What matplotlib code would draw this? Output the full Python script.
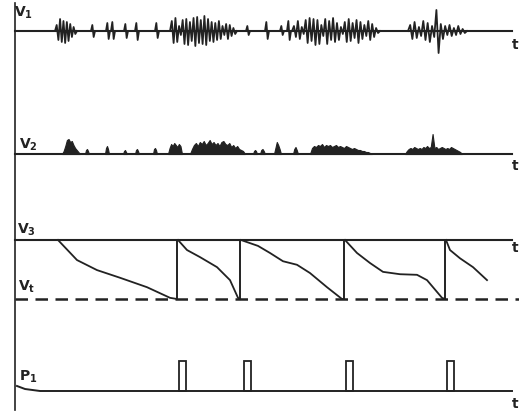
import numpy as np
import matplotlib.pyplot as plt

ink = '#222222'

# V1: raw activity, bursts given as (start, end) times and alternating peak amplitudes
v1_start = [55, 91, 106, 111, 124, 135, 155, 170, 246, 265, 280, 287, 292, 408]
v1_end = [77, 95, 110, 115, 128, 139, 159, 237, 250, 269, 284, 291, 380, 467]
v1_amp = [
    [6, -9, 12, -11, 10, -12, 9, -10, 7, -6, 4, -3],
    [6, -6],
    [8, -8],
    [9, -8],
    [7, -7],
    [8, -9],
    [8, -7],
    [10, -12, 13, -11, 5, -4, 11, -13, 12, -14, 9, -10, 13, -15, 14, -12, 11, -13,
     15, -14, 12, -10, 9, -11, 8, -9, 10, -8, 5, -4, 7, -8, 6, -5, 3, -3],
    [5, -4],
    [9, -8],
    [5, -4],
    [10, -9],
    [5, -6, 10, -8, 4, -3, 11, -12, 13, -10, 12, -14, 11, -13, 6, -5, 12, -13, 10, -9,
     13, -11, 8, -9, 4, -3, 9, -11, 12, -10, 8, -7, 11, -12, 9, -8, 6, -5, 10, -9, 7, -6, 3, -2],
    [6, -8, 9, -7, 4, -5, 10, -9, 8, -11, 5, -6, 21, -22, 7, -8, 5, -4, 6, -5, 3, -4, 5, -3, 2, -2],
]

# V2: integrated (rectified) activity
v2_start = [62, 85, 105, 123, 135, 153, 168, 190, 253, 260, 274, 293, 310, 405]
v2_end = [80, 89, 109, 127, 139, 157, 182, 245, 257, 265, 281, 298, 372, 462]
v2_amp = [
    [3, 8, 14, 15, 12, 13, 9, 6, 4, 2],
    [4, 5, 3],
    [6, 8, 5],
    [3, 4, 2],
    [4, 5, 3],
    [5, 6, 4],
    [6, 10, 8, 11, 9, 7, 10, 8],
    [5, 9, 11, 8, 12, 10, 13, 9, 11, 14, 10, 12, 9, 11, 8, 12, 13, 10, 9, 11, 7, 9, 6, 8, 5, 4, 3],
    [3, 4, 3],
    [4, 5, 3],
    [6, 12, 9, 5],
    [5, 7, 4],
    [6, 8, 7, 9, 8, 10, 7, 9, 8, 9, 7, 8, 9, 7, 8, 7, 6, 8, 7, 6, 5, 6, 5, 4, 4, 3, 3, 2, 2, 1],
    [3, 5, 6, 5, 7, 6, 5, 6, 5, 7, 6, 8, 6, 7, 20, 6, 7, 5, 6, 7, 6, 5, 6, 5, 7, 6, 5, 4, 3, 2],
]

# V3: decaying potential, 1 = V3 level, 0 = threshold Vt
ramp_t = [
    [58, 77, 97, 120, 147, 170, 177],
    [178, 187, 200, 217, 230, 238, 240],
    [241, 258, 270, 283, 297, 310, 327, 342, 344],
    [345, 357, 370, 383, 400, 417, 427, 442, 445],
    [446, 450, 460, 473, 487],
]
ramp_v = [
    [1, 0.66, 0.49, 0.36, 0.20, 0.02, 0],
    [1, 0.83, 0.71, 0.54, 0.32, 0.02, 0],
    [1, 0.90, 0.78, 0.64, 0.58, 0.44, 0.20, 0, 0],
    [1, 0.78, 0.61, 0.46, 0.42, 0.41, 0.32, 0.02, 0],
    [1, 0.83, 0.69, 0.54, 0.32],
]
reset_t = [177, 240, 344, 445]

# P1: output pulses
pulse_t = [179, 244, 346, 447]
pulse_w = 7

# layout (trace baselines, y grows downward)
x0, x1 = 15, 512
y_v1, y_v2, y_v3, y_vt, y_p1 = 31, 154, 240, 299, 391
p1_height = 30

fig = plt.figure(figsize=(5.19, 4.16), dpi=100)
ax = fig.add_axes([0, 0, 1, 1])
ax.set_xlim(0, 519)
ax.set_ylim(416, 0)
ax.axis('off')

# left axis
ax.plot([x0, x0], [3, 410], color=ink, lw=1.2)

# V1
ax.plot([x0, x1], [y_v1, y_v1], color=ink, lw=1.5)
for s, e, a in zip(v1_start, v1_end, v1_amp):
    t = np.linspace(s, e, len(a) + 2)
    v = np.array([0] + a + [0])
    ax.plot(t, y_v1 - v, color=ink, lw=1.3)

# V2
ax.plot([x0, x1], [y_v2, y_v2], color=ink, lw=1.5)
for s, e, a in zip(v2_start, v2_end, v2_amp):
    t = np.linspace(s, e, len(a) + 2)
    v = np.array([0] + a + [0])
    ax.fill_between(t, y_v2, y_v2 - v, color=ink, lw=0.8)

# V3 and threshold
ax.plot([x0, x1], [y_v3, y_v3], color=ink, lw=1.5)
ax.plot([x0, 519], [y_vt, y_vt], color=ink, lw=1.8, dashes=(5, 3))
span = y_vt - y_v3
for t, v in zip(ramp_t, ramp_v):
    ax.plot(t, y_vt - np.array(v) * span, color=ink, lw=1.3)
for t in reset_t:
    ax.plot([t, t], [y_vt, y_v3], color=ink, lw=1.4)

# P1
ax.plot([17, 25, 40, x1], [y_p1 - 5, y_p1 - 2, y_p1, y_p1], color=ink, lw=1.4)
for t in pulse_t:
    ax.add_patch(plt.Rectangle((t, y_p1 - p1_height), pulse_w, p1_height,
                               facecolor='white', edgecolor=ink, lw=1.3))

lab = dict(color=ink, fontsize=10, fontweight='bold', ha='center', va='center')
ax.text(24, 13, r'V$_\mathbf{1}$', **lab)
ax.text(28, 145, r'V$_\mathbf{2}$', **lab)
ax.text(26, 230, r'V$_\mathbf{3}$', **lab)
ax.text(27, 287, r'V$_\mathbf{t}$', **lab)
ax.text(28, 377, r'P$_\mathbf{1}$', **lab)
# time labels at the right end of each trace
for y in [y_v1 + 14, y_v2 + 12, y_v3 + 8, y_p1 + 13]:
    ax.text(518, y, 't', color=ink, fontsize=10, fontweight='bold', ha='right', va='center')

fig.savefig('out.png', dpi=100, facecolor='white')
